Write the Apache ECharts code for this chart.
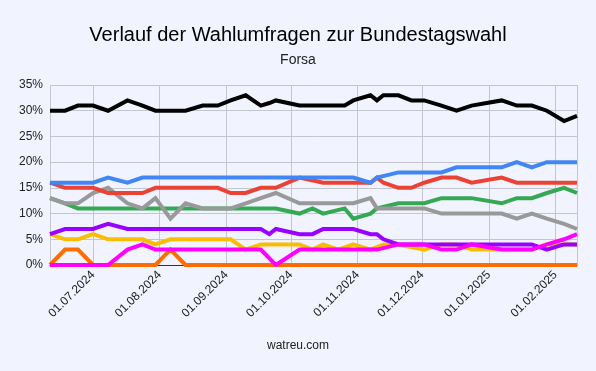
<!DOCTYPE html>
<html><head><meta charset="utf-8">
<script src="https://cdn.jsdelivr.net/npm/echarts@6/dist/echarts.min.js"></script>
<style>html,body{margin:0;padding:0;background:#f1f4ff}#c{width:596px;height:371px}</style>
</head><body><div id="c"></div>
<script>
const dates = ['2024-06-11','2024-06-18','2024-06-24','2024-07-01','2024-07-08','2024-07-17','2024-07-24','2024-07-30','2024-08-06','2024-08-13',
 '2024-08-21','2024-08-28','2024-09-03','2024-09-10','2024-09-17','2024-09-21','2024-09-24','2024-10-05','2024-10-11','2024-10-16',
 '2024-10-23','2024-10-26','2024-10-30','2024-11-07','2024-11-10','2024-11-13','2024-11-20','2024-11-26','2024-12-02','2024-12-10',
 '2024-12-17','2024-12-24','2024-12-31','2025-01-07','2025-01-14','2025-01-21','2025-01-28','2025-02-05','2025-02-11'];
const cdu   = [30,30,31,31,30,32,31,30,30,30, 31,31,32,33,31,31.5,32,31,31,31, 31,31,32,33,32,33,33,32,32,31, 30,31,31.5,32,31,31,30,28,29];
const afd   = [16,16,16,16,17,16,17,17,17,17, 17,17,17,17,17,17,17,17,17,17, 17,17,17,16,17,null,18,18,18,18, 19,19,19,19,20,19,20,20,20];
const spd   = [16,15,15,15,14,14,14,15,15,15, 15,15,14,14,15,15,15,17,null,16, 16,16,16,16,17,16,15,15,16,17, 17,16,null,17,16,16,16,16,16];
const gruene= [13,12,11,11,11,11,11,11,11,11, 11,11,11,11,11,11,11,10,11,10, null,11,9,10,11,null,12,12,12,13, 13,13,null,12,13,13,14,15,14];
const sonst = [13,12,12,14,15,12,11,13,9,12, 11,11,11,12,13,null,14,12,12,12, 12,12,12,13,11,11,11,11,11,10, 10,10,null,10,9,10,9,8,7];
const bsw   = [6,7,7,7,8,7,7,7,7,7, 7,7,7,7,7,6,7,6,6,7, 7,7,7,6,6,5,4,4,4,4, 4,4,4,4,4,4,3,4,4];
const fdp   = [6,5,5,6,5,5,5,4,5,5, 5,5,5,3,4,4,4,4,3,4, 3,null,4,3,null,4,4,null,3,4, 4,3,3,3,3,3,4,4,4];
const linke = [0,0,0,0,0,3,4,3,3,3, 3,3,3,3,3,null,0,3,3,3, 3,3,3,3,3,null,4,4,4,3, 3,4,null,3,3,3,4,5,6];
const fw    = [0,3,3,0,0,0,0,0,3,0, 0,0,0,0,0,0,0,0,0,0, 0,0,0,0,0,0,0,0,0,0, 0,0,0,0,0,0,0,0,0];
const yTicks = [0,5,10,15,20,25,30,35];

const seriesDefs = [
  ['Freie Wähler', fw, '#ff6d01'],
  ['FDP', fdp, '#fbbc04'],
  ['BSW', bsw, '#9900ff'],
  ['Linke', linke, '#ff00ff'],
  ['Grüne', gruene, '#34a853'],
  ['Sonstige', sonst, '#999999'],
  ['SPD', spd, '#ea4335'],
  ['AfD', afd, '#4285f4'],
  ['CDU/CSU', cdu, '#000000']
];
const pad = n => (n < 10 ? '0' : '') + n;
const chart = echarts.init(document.getElementById('c'), null, {renderer: 'canvas'});
chart.setOption({
  backgroundColor: '#f1f4ff',
  animation: false,
  textStyle: {fontFamily: 'Liberation Sans, Arial, sans-serif'},
  title: [
    {text: 'Verlauf der Wahlumfragen zur Bundestagswahl', left: 'center', top: 20,
     textStyle: {fontSize: 20, fontWeight: 'normal', color: '#000', fontFamily: 'Liberation Sans'}},
    {text: 'Forsa', left: 'center', top: 48,
     textStyle: {fontSize: 14, fontWeight: 'normal', color: '#222', fontFamily: 'Liberation Sans'}},
    {text: 'watreu.com', left: 'center', top: 335,
     textStyle: {fontSize: 12, fontWeight: 'normal', color: '#222', fontFamily: 'Liberation Sans'}}
  ],
  grid: {left: 50, right: 19, top: 85, bottom: 106, containLabel: false},
  xAxis: {
    type: 'time',
    min: new Date(2024, 5, 11).getTime(),
    max: new Date(2025, 1, 11).getTime(),
    minInterval: 28 * 86400000,
    axisLine: {show: true, lineStyle: {color: '#333', width: 1}},
    axisTick: {show: false},
    splitLine: {show: true, lineStyle: {color: '#c4c6cf', width: 1}},
    axisLabel: {
      rotate: 45, fontSize: 12, color: '#222', margin: 8,
      showMinLabel: false, showMaxLabel: false,
      formatter: v => { const d = new Date(v); return pad(d.getDate()) + '.' + pad(d.getMonth() + 1) + '.' + d.getFullYear(); }
    }
  },
  yAxis: {
    type: 'value', min: yTicks[0], max: yTicks[yTicks.length - 1], interval: 5,
    axisLine: {show: false}, axisTick: {show: false},
    splitLine: {show: true, lineStyle: {color: '#c4c6cf', width: 1}},
    axisLabel: {fontSize: 12, color: '#222', margin: 7, formatter: '{value}%'}
  },
  series: seriesDefs.map(([name, vals, color]) => ({
    name, type: 'line', showSymbol: false, symbol: 'none', connectNulls: true,
    data: dates.map((d, i) => [d, vals[i]]),
    lineStyle: {color, width: 4, join: 'miter'},
    itemStyle: {color},
    emphasis: {disabled: true}
  }))
});
</script>
</body></html>
